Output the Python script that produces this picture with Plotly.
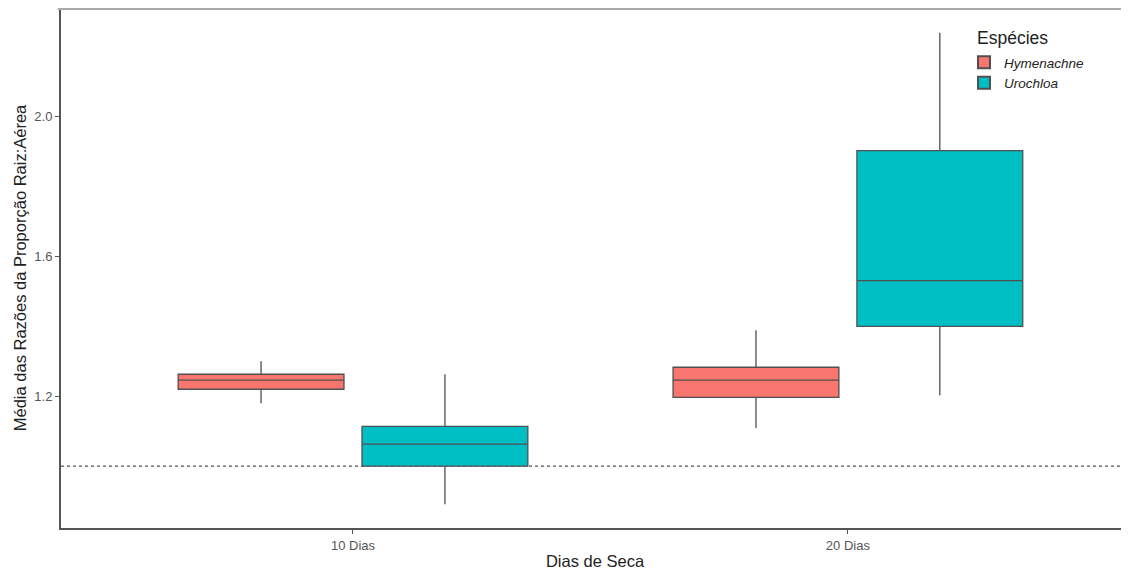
import plotly.graph_objects as go

categories = ["10 Dias", "20 Dias"]
species = ["Hymenachne", "Urochloa"]
colors = ["#F8766D", "#00BFC4"]

# box statistics per species, per category
lower = {"Hymenachne": [1.18, 1.109], "Urochloa": [0.891, 1.203]}
q1 = {"Hymenachne": [1.220, 1.197], "Urochloa": [1.000, 1.400]}
median = {"Hymenachne": [1.246, 1.246], "Urochloa": [1.063, 1.531]}
q3 = {"Hymenachne": [1.263, 1.283], "Urochloa": [1.114, 1.903]}
upper = {"Hymenachne": [1.300, 1.389], "Urochloa": [1.263, 2.240]}

y_ticks = [1.2, 1.6, 2.0]
ref_line = 1.0

fig = go.Figure()
for sp, col in zip(species, colors):
    fig.add_trace(go.Box(
        name=sp,
        x=categories,
        q1=q1[sp], median=median[sp], q3=q3[sp],
        lowerfence=lower[sp], upperfence=upper[sp],
        fillcolor=col,
        line=dict(color="#505050", width=1.3),
        whiskerwidth=0,
        boxpoints=False,
        hoverinfo="skip",
    ))

fig.add_shape(type="line", xref="paper", yref="y", x0=0, x1=1, y0=ref_line, y1=ref_line,
              line=dict(color="#555555", width=1.2, dash="3px,3px"), layer="below")
fig.add_shape(type="line", xref="paper", yref="paper", x0=-0.003, x1=1, y0=0.998, y1=0.998,
              line=dict(color="#aaaaaa", width=2))

fig.add_annotation(text="Espécies", xref="paper", yref="paper", x=0.8555, y=0.942,
                   xanchor="left", yanchor="middle", showarrow=False,
                   font=dict(size=17.5, color="#222222"))

fig.update_layout(
    width=1121, height=562,
    margin=dict(l=53, r=0, t=0, b=42, autoexpand=False),
    paper_bgcolor="white", plot_bgcolor="white",
    boxmode="group", boxgap=0.257, boxgroupgap=0.098,
    font=dict(family="Liberation Sans, Arial, sans-serif", color="#222222"),
    legend=dict(
        font=dict(size=13.5, color="#222222", style="italic"),
        x=0.8455, y=0.925, xanchor="left", yanchor="top",
        bgcolor="rgba(0,0,0,0)", tracegroupgap=0, itemsizing="constant",
    ),
    xaxis=dict(
        type="category", range=[-0.59, 1.568], automargin=False,
        showline=True, linecolor="#555555", linewidth=2,
        ticks="outside", ticklen=4, tickcolor="#555555", tickwidth=1,
        tickfont=dict(size=13, color="#555555"),
        title=dict(text="Dias de Seca", font=dict(size=16.5, color="#222222"), standoff=5),
        showgrid=False, zeroline=False,
    ),
    yaxis=dict(
        range=[0.823, 2.311], automargin=False,
        tickvals=y_ticks, ticktext=[f"{v:.1f}" for v in y_ticks],
        showline=True, linecolor="#555555", linewidth=2,
        ticks="outside", ticklen=4, tickcolor="#555555", tickwidth=1,
        tickfont=dict(size=13, color="#555555"),
        title=dict(text="Média das Razões da Proporção Raiz:Aérea", font=dict(size=16.5, color="#222222"), standoff=4),
        showgrid=False, zeroline=False,
    ),
)

fig.write_html("out.html")
